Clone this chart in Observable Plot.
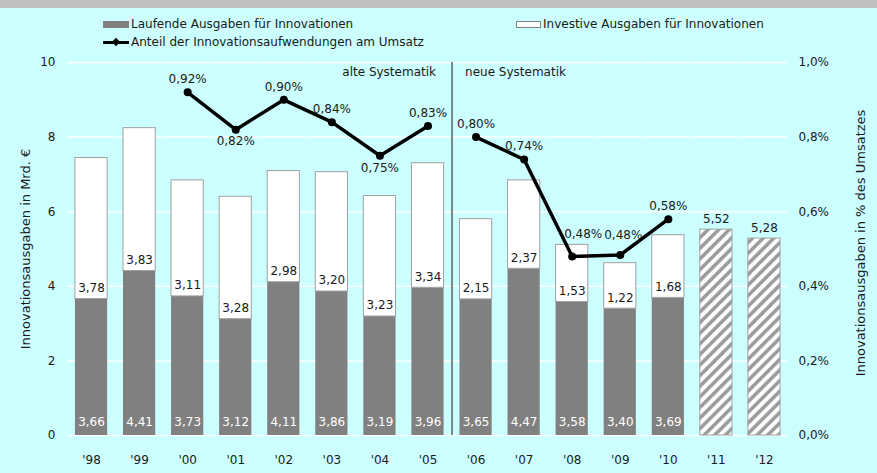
<!DOCTYPE html>
<html>
<head>
<meta charset="utf-8">
<script src="https://cdn.jsdelivr.net/npm/d3@7"></script>
<script src="https://cdn.jsdelivr.net/npm/@observablehq/plot@0.6"></script>
<style>
  html, body { margin: 0; padding: 0; background: #ccffff; }
  #wrap { position: relative; width: 877px; height: 473px; background: #ccffff; font-family: "DejaVu Sans", Verdana, sans-serif; font-size: 12px; color: #1a1a1a; overflow: hidden; }
  #topband { position: absolute; left: 0; top: 0; width: 877px; height: 8px; background: #c0c0c0; }
  .lg { position: absolute; line-height: 14px; white-space: nowrap; }
  .sw { position: absolute; }
  #chart { position: absolute; left: 0; top: 52px; }
</style>
</head>
<body>
<div id="wrap">
  <div id="topband"></div>
  <div class="sw" style="left:103px;top:21px;width:26px;height:7px;background:#808080;"></div>
  <div class="lg" id="lg1" style="left:131px;top:17px;"></div>
  <div class="sw" style="left:516px;top:21px;width:23px;height:5px;background:#fff;border:1px solid #808080;"></div>
  <div class="lg" id="lg2" style="left:543px;top:17px;"></div>
  <div class="sw" style="left:103px;top:41px;width:26px;height:3px;background:#000;"></div>
  <div class="sw" style="left:113px;top:39px;width:6px;height:6px;background:#000;transform:rotate(45deg);"></div>
  <div class="lg" id="lg3" style="left:131px;top:35px;"></div>
  <div id="chart"></div>
</div>
<script>
// ---- data ----
const years = ["'98","'99","'00","'01","'02","'03","'04","'05","'06","'07","'08","'09","'10","'11","'12"];
const laufend = [3.66,4.41,3.73,3.12,4.11,3.86,3.19,3.96,3.65,4.47,3.58,3.40,3.69,null,null];
const investiv = [3.78,3.83,3.11,3.28,2.98,3.20,3.23,3.34,2.15,2.37,1.53,1.22,1.68,null,null];
const geplant = [null,null,null,null,null,null,null,null,null,null,null,null,null,5.52,5.28];
const anteil = [null,null,0.92,0.82,0.90,0.84,0.75,0.83,0.80,0.74,0.48,0.484,0.58,null,null];
const ersteNeueSystematik = "'06";
const systematikLabels = ["alte Systematik", "neue Systematik"];
const yTicks = [0,2,4,6,8,10];
const yTickLabels = ["0","2","4","6","8","10"];
const pctTickLabels = ["0,0%","0,2%","0,4%","0,6%","0,8%","1,0%"];
const seriesNames = ["Laufende Ausgaben für Innovationen","Investive Ausgaben für Innovationen","Anteil der Innovationsaufwendungen am Umsatz"];
const yLabel = "Innovationsausgaben in Mrd. €";
const y2Label = "Innovationsausgaben in % des Umsatzes";
const labelsBelow = ["'01","'04"];

document.getElementById("lg1").textContent = seriesNames[0];
document.getElementById("lg2").textContent = seriesNames[1];
document.getElementById("lg3").textContent = seriesNames[2];

const splitIdx = years.indexOf(ersteNeueSystematik);
const rows = years.map((year, i) => ({
  year, laufend: laufend[i], investiv: investiv[i], geplant: geplant[i], anteil: anteil[i],
  era: i < splitIdx ? "alt" : "neu"
}));
const fmt = v => v.toFixed(2).replace(".", ",");
const barRows = rows.filter(d => d.laufend != null);
const planRows = rows.filter(d => d.geplant != null);
const lineRows = rows.filter(d => d.anteil != null);
const fontFam = "DejaVu Sans, Verdana, sans-serif";

const plot = Plot.plot({
  width: 877,
  height: 421,
  marginTop: 10,
  marginBottom: 38,
  marginLeft: 67,
  marginRight: 89,
  style: { fontFamily: fontFam, fontSize: "12px", background: "transparent", color: "#1a1a1a", overflow: "visible" },
  x: { type: "band", domain: years, paddingInner: 0.33, paddingOuter: 0.165, round: false },
  y: { domain: [0, 10] },
  marks: [
    Plot.gridY(yTicks, { stroke: "white", strokeOpacity: 1, strokeWidth: 1.5, strokeDasharray: "46.57,1.5" }),
    Plot.barY(barRows, { x: "year", y1: 0, y2: "laufend", fill: "#808080" }),
    Plot.barY(barRows, { x: "year", y1: "laufend", y2: d => d.laufend + d.investiv, fill: "white", stroke: "#a0a0a0", strokeWidth: 1 }),
    Plot.barY(planRows, { x: "year", y1: 0, y2: "geplant", fill: "url(#hatch)", stroke: "#a0a0a0", strokeWidth: 1 }),
    Plot.ruleX([ersteNeueSystematik], { x: d => d, dx: -24.03, y1: 0, y2: 10, stroke: "#606060", strokeWidth: 1.5 }),
    Plot.text([systematikLabels[0]], { x: () => years[splitIdx - 1], y: 10, text: d => d, dx: 8, dy: 10, textAnchor: "end", fill: "#1a1a1a", fontSize: 12 }),
    Plot.text([systematikLabels[1]], { x: () => years[splitIdx], y: 10, text: d => d, dx: -11, dy: 10, textAnchor: "start", fill: "#1a1a1a", fontSize: 12 }),
    Plot.text(barRows, { x: "year", y: 0, text: d => fmt(d.laufend), dy: -13, fill: "white", fontSize: 12 }),
    Plot.text(barRows, { x: "year", y: "laufend", text: d => fmt(d.investiv), dy: -11, fill: "#1a1a1a", fontSize: 12 }),
    Plot.text(planRows, { x: "year", y: "geplant", text: d => fmt(d.geplant), dy: -10, fill: "#1a1a1a", fontSize: 12 }),
    Plot.line(lineRows, { x: "year", y: d => d.anteil * 10, z: "era", stroke: "black", strokeWidth: 3.5 }),
    Plot.dot(lineRows, { x: "year", y: d => d.anteil * 10, r: 4, fill: "black" }),
    Plot.text(lineRows.filter(d => !labelsBelow.includes(d.year) && d.year !== "'08" && d.year !== "'09"), { x: "year", y: d => d.anteil * 10, text: d => fmt(d.anteil) + "%", dy: -13, fill: "#1a1a1a", fontSize: 12 }),
    Plot.text(lineRows.filter(d => labelsBelow.includes(d.year)), { x: "year", y: d => d.anteil * 10, text: d => fmt(d.anteil) + "%", dy: 12, fill: "#1a1a1a", fontSize: 12 }),
    Plot.text(lineRows.filter(d => d.year === "'08"), { x: "year", y: d => d.anteil * 10, text: d => fmt(d.anteil) + "%", dx: 11, dy: -22, fill: "#1a1a1a", fontSize: 12 }),
    Plot.text(lineRows.filter(d => d.year === "'09"), { x: "year", y: d => d.anteil * 10, text: d => fmt(d.anteil) + "%", dx: 3, dy: -20, fill: "#1a1a1a", fontSize: 12 }),
    Plot.axisY(yTicks, { anchor: "left", tickSize: 0, tickPadding: 12, tickFormat: (d, i) => yTickLabels[i], label: null, fontSize: 12 }),
    Plot.axisY(yTicks, { anchor: "right", tickSize: 0, tickPadding: 10, tickFormat: (d, i) => pctTickLabels[i], label: null, fontSize: 12 }),
    Plot.axisX({ tickSize: 0, tickPadding: 20, label: null, fontSize: 12 }),
    Plot.text([yLabel], { frameAnchor: "left", textAnchor: "middle", text: d => d, rotate: -90, dx: -42, fontSize: 13, fill: "#1a1a1a" }),
    Plot.text([y2Label], { frameAnchor: "right", textAnchor: "middle", text: d => d, rotate: -90, dx: 72, dy: -6, fontSize: 13, fill: "#1a1a1a" })
  ]
});

const ns = "http://www.w3.org/2000/svg";
const defs = document.createElementNS(ns, "defs");
defs.innerHTML = '<pattern id="hatch" patternUnits="userSpaceOnUse" width="7.5" height="7.5" patternTransform="rotate(45)">' +
  '<rect width="7.5" height="7.5" fill="white"/>' +
  '<line x1="3.75" y1="-1" x2="3.75" y2="8.5" stroke="#9a9a9a" stroke-width="3.5"/></pattern>';
plot.insertBefore(defs, plot.firstChild);
document.getElementById("chart").appendChild(plot);
</script>
</body>
</html>
